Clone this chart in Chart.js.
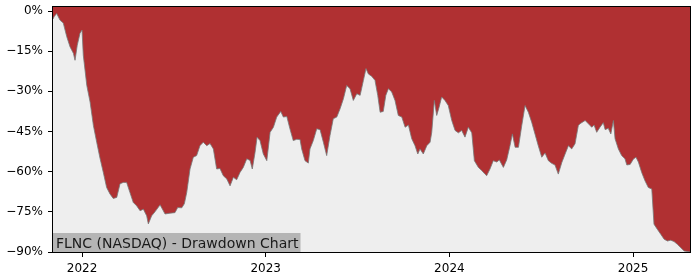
<!DOCTYPE html>
<html>
<head>
<meta charset="utf-8">
<script src="https://cdn.jsdelivr.net/npm/chart.js@4.4.1/dist/chart.umd.min.js"></script>
<style>
  html,body{margin:0;padding:0;background:#fff;}
  #wrap{width:700px;height:280px;}
</style>
</head>
<body>
<div id="wrap"><canvas id="ddChart" width="700" height="280"></canvas></div>
<script>
// Drawdown data (decimal year, % below running peak)
const dates = [
  2021.842,2021.848,2021.862,2021.880,2021.898,2021.917,2021.935,2021.953,2021.962,2021.974,2021.989,
  2022.000,2022.007,2022.026,2022.044,2022.062,2022.080,2022.098,2022.116,2022.134,2022.152,2022.170,
  2022.189,2022.207,2022.225,2022.243,2022.261,2022.279,2022.298,2022.316,2022.334,2022.352,2022.361,
  2022.379,2022.397,2022.425,2022.452,2022.479,2022.506,2022.521,2022.543,2022.557,2022.570,2022.588,
  2022.606,2022.624,2022.642,2022.660,2022.679,2022.697,2022.715,2022.733,2022.751,2022.769,2022.788,
  2022.806,2022.824,2022.842,2022.860,2022.878,2022.897,2022.915,2022.927,2022.942,2022.953,2022.969,
  2022.987,2023.006,2023.024,2023.042,2023.060,2023.082,2023.096,2023.115,2023.132,2023.150,2023.169,
  2023.187,2023.196,2023.214,2023.232,2023.241,2023.259,2023.278,2023.296,2023.314,2023.332,2023.350,
  2023.368,2023.387,2023.405,2023.423,2023.441,2023.459,2023.477,2023.496,2023.514,2023.532,2023.546,
  2023.559,2023.577,2023.595,2023.610,2023.623,2023.640,2023.654,2023.668,2023.686,2023.704,2023.722,
  2023.741,2023.759,2023.777,2023.795,2023.813,2023.828,2023.840,2023.858,2023.877,2023.895,2023.904,
  2023.918,2023.931,2023.944,2023.958,2023.976,2023.994,2024.013,2024.031,2024.049,2024.067,2024.085,
  2024.103,2024.122,2024.136,2024.158,2024.176,2024.194,2024.203,2024.221,2024.239,2024.258,2024.272,
  2024.294,2024.312,2024.330,2024.343,2024.358,2024.376,2024.394,2024.412,2024.430,2024.448,2024.466,
  2024.484,2024.503,2024.521,2024.539,2024.557,2024.575,2024.593,2024.612,2024.630,2024.648,2024.666,
  2024.684,2024.702,2024.711,2024.739,2024.757,2024.775,2024.788,2024.802,2024.820,2024.838,2024.848,
  2024.865,2024.879,2024.893,2024.902,2024.920,2024.938,2024.956,2024.966,2024.984,2025.002,2025.016,
  2025.029,2025.047,2025.065,2025.083,2025.102,2025.114,2025.132,2025.151,2025.169,2025.187,2025.205,
  2025.223,2025.241,2025.260,2025.278,2025.310
];
const drawdown = [
  -3.0,-2.1,-0.9,-3.4,-4.5,-9.6,-13.4,-15.8,-18.4,-12.8,-8.3,
  -7.1,-16.5,-27.8,-34.0,-42.8,-49.0,-55.0,-60.3,-65.9,-68.3,-70.0,
  -69.6,-64.5,-64.0,-64.0,-67.8,-71.5,-72.8,-74.6,-74.0,-76.5,-79.5,
  -76.5,-75.0,-72.4,-75.8,-75.5,-75.3,-73.4,-73.5,-72.0,-67.8,-59.0,
  -54.6,-54.0,-50.3,-49.0,-50.3,-49.5,-51.5,-59.0,-58.8,-61.5,-62.7,
  -65.3,-62.1,-63.0,-60.3,-58.4,-55.2,-55.8,-59.0,-52.8,-47.1,-48.4,
  -53.4,-55.9,-45.3,-43.4,-39.6,-37.5,-39.6,-39.4,-44.0,-48.4,-47.9,
  -48.0,-51.5,-55.9,-56.8,-51.5,-48.4,-44.0,-44.3,-49.0,-54.0,-46.5,
  -40.2,-39.6,-36.5,-32.8,-27.8,-29.0,-33.4,-30.9,-31.5,-25.9,-21.5,
  -23.5,-24.4,-25.9,-31.5,-37.8,-37.5,-31.5,-29.0,-30.2,-33.4,-39.0,
  -39.6,-43.4,-42.6,-47.7,-50.3,-53.4,-51.5,-53.4,-50.3,-49.0,-45.3,
  -33.4,-39.0,-35.9,-32.1,-33.4,-35.3,-40.9,-44.6,-45.5,-44.6,-47.1,
  -43.4,-45.5,-55.9,-58.4,-59.6,-60.9,-61.5,-59.0,-55.9,-56.4,-55.6,
  -58.4,-55.6,-50.3,-45.9,-50.9,-50.9,-42.8,-35.3,-37.8,-41.5,-45.9,
  -50.3,-54.6,-53.0,-55.9,-56.9,-57.5,-60.9,-56.6,-53.4,-50.3,-51.5,
  -49.6,-42.8,-42.1,-40.9,-42.1,-43.4,-42.6,-45.3,-43.4,-41.7,-44.3,
  -43.8,-45.9,-40.9,-47.7,-51.5,-54.0,-55.2,-57.5,-57.3,-55.3,-54.6,
  -56.4,-60.3,-63.4,-65.9,-66.5,-79.6,-81.5,-83.4,-85.2,-85.9,-85.6,
  -86.1,-87.1,-88.4,-89.6,-90.0
];
const yTicks = [0,-15,-30,-45,-60,-75,-90];
const xTicks = [2022,2023,2024,2025];
const titleText = 'FLNC (NASDAQ) - Drawdown Chart';

Chart.defaults.font.family = "'DejaVu Sans', sans-serif";
Chart.defaults.font.size = 12;
Chart.defaults.color = '#000';

// plot background, frame and the title box
const decor = {
  id:'decor',
  beforeDatasetsDraw(chart){
    const {ctx, chartArea:a} = chart;
    ctx.save();
    ctx.fillStyle = '#eeeeee';
    ctx.fillRect(a.left, a.top, a.right-a.left, a.bottom-a.top);
    ctx.restore();
  },
  afterDraw(chart){
    const {ctx, chartArea:a} = chart;
    ctx.save();
    ctx.font = "14px 'DejaVu Sans', sans-serif";
    const w = ctx.measureText(titleText).width;
    ctx.fillStyle = '#b5b5b5';
    ctx.fillRect(a.left, a.bottom-19, w+5, 19);
    ctx.fillStyle = '#1a1a1a';
    ctx.textBaseline = 'alphabetic';
    ctx.fillText(titleText, a.left+3, a.bottom-4);
    ctx.strokeStyle = '#000';
    ctx.lineWidth = 1;
    ctx.strokeRect(Math.round(a.left)-0.5, Math.round(a.top)-0.5, Math.round(a.right-a.left)+1, Math.round(a.bottom-a.top)+1);
    ctx.restore();
  }
};

const ctx = document.getElementById('ddChart').getContext('2d');
let ddChart = new Chart(ctx,{
  type:'line',
  data:{
    datasets:[{
      data:dates.map((d,i)=>({x:d,y:drawdown[i]})),
      fill:'end',
      backgroundColor:'#b03032',
      borderColor:'rgba(120,120,120,0.8)',
      borderWidth:1,
      pointRadius:0,
      tension:0
    }]
  },
  options:{
    responsive:false,
    animation:false,
    layout:{padding:{top:7,right:10,left:0,bottom:0}},
    plugins:{legend:{display:false},tooltip:{enabled:false}},
    scales:{
      x:{
        type:'linear',
        min:dates[0],
        max:dates[dates.length-1],
        afterBuildTicks:axis=>{axis.ticks = xTicks.map(v=>({value:v}));},
        afterFit:axis=>{axis.height = 28; axis.paddingLeft = 0; axis.paddingRight = 0;},
        ticks:{callback:v=>String(v),padding:5,maxRotation:0,autoSkip:false},
        grid:{display:true,drawOnChartArea:false,drawTicks:true,tickLength:5,color:'#000'},
        border:{display:false}
      },
      y:{
        min:-90,
        max:1.5,
        afterBuildTicks:axis=>{axis.ticks = yTicks.map(v=>({value:v}));},
        afterFit:axis=>{axis.width = 53; axis.paddingTop = 0; axis.paddingBottom = 0;},
        ticks:{callback:v=>(v<0?'\u2212':'')+Math.abs(v)+'%',padding:5,autoSkip:false},
        grid:{display:true,drawOnChartArea:false,drawTicks:true,tickLength:5,color:'#000'},
        border:{display:false}
      }
    }
  },
  plugins:[decor]
});
</script>
</body>
</html>
